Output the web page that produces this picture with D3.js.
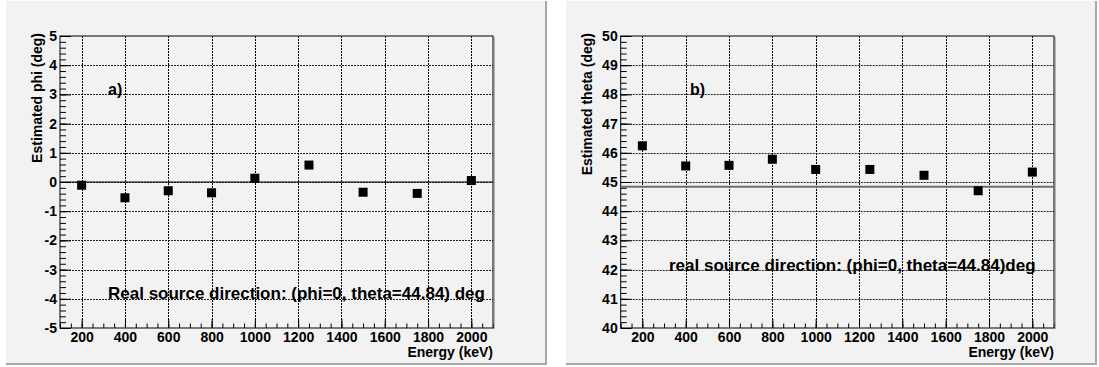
<!DOCTYPE html>
<html>
<head>
<meta charset="utf-8">
<script src="https://cdnjs.cloudflare.com/ajax/libs/d3/7.8.5/d3.min.js"></script>
<style>
  body { margin: 0; background: #fff; }
  svg { display: block; font-family: "Liberation Sans", Arial, sans-serif; font-weight: bold; }
</style>
</head>
<body>
<svg id="chart" width="1099" height="367"></svg>
<script>
// energies of the simulated sources (keV)
const energies = [200, 400, 600, 800, 1000, 1250, 1500, 1750, 2000];
// reconstructed directions
const phiValues = [-0.11, -0.54, -0.30, -0.37, 0.13, 0.58, -0.35, -0.39, 0.05];
const thetaValues = [46.24, 45.55, 45.57, 45.78, 45.43, 45.43, 45.23, 44.70, 45.34];
// tick labels
const xTicks = [200, 400, 600, 800, 1000, 1200, 1400, 1600, 1800, 2000];
const phiTicks = [-5, -4, -3, -2, -1, 0, 1, 2, 3, 4, 5];
const thetaTicks = [40, 41, 42, 43, 44, 45, 46, 47, 48, 49, 50];

const svg = d3.select('#chart');
const font = '"Liberation Sans", Arial, sans-serif';

const panels = [
    {pad: [6, 547], plot: [60, 493], yDomain: [-5, 5], yTicks: phiTicks, values: phiValues,
     ref: 0, refColor: '#000', refWidth: 1,
     yTitle: 'Estimated phi (deg)', titleX: 42,
     tag: 'a)', tagPos: [108, 95],
     note: 'Real source direction: (phi=0, theta=44.84) deg', notePos: [108, 299]},
    {pad: [566, 1097], plot: [620.7, 1054], yDomain: [40, 50], yTicks: thetaTicks, values: thetaValues,
     ref: 44.84, refColor: '#6e6e6e', refWidth: 2,
     yTitle: 'Estimated theta (deg)', titleX: 592,
     tag: 'b)', tagPos: [690, 95],
     note: 'real source direction: (phi=0, theta=44.84)deg', notePos: [669, 271]}
];

const plotTop = 36, plotBottom = 328;

const styleLabels = a => a.selectAll('text')
    .attr('font-size', 14).attr('font-weight', 'bold')
    .attr('fill', '#000').attr('font-family', font);

panels.forEach(p => {
    const g = svg.append('g');

    // pad with ROOT-like bevel
    g.append('rect').attr('x', p.pad[0]).attr('y', 1)
        .attr('width', p.pad[1] - p.pad[0]).attr('height', 363)
        .attr('fill', '#f2f2f2');
    g.append('path')
        .attr('d', `M${p.pad[1] - 1},1V${364}H${p.pad[0]}`)
        .attr('stroke', '#a8a8a8').attr('stroke-width', 2).attr('fill', 'none');

    const x = d3.scaleLinear().domain([100, 2100]).range(p.plot);
    const y = d3.scaleLinear().domain(p.yDomain).range([plotBottom, plotTop]);

    // dotted grid at the major ticks
    g.append('g').selectAll('line').data(xTicks).join('line')
        .attr('x1', d => Math.round(x(d)) + 0.5).attr('x2', d => Math.round(x(d)) + 0.5)
        .attr('y1', plotTop).attr('y2', plotBottom)
        .attr('stroke', '#000').attr('stroke-dasharray', '2,1');
    g.append('g').selectAll('line').data(p.yTicks.slice(1, -1)).join('line')
        .attr('x1', p.plot[0]).attr('x2', p.plot[1])
        .attr('y1', d => Math.round(y(d)) + 0.5).attr('y2', d => Math.round(y(d)) + 0.5)
        .attr('stroke', '#222').attr('stroke-dasharray', '2,1');

    // x axis: minor then major
    const xMinor = d3.range(100, 2101, 50);
    g.append('g').attr('transform', `translate(0,${plotBottom})`)
        .call(d3.axisBottom(x).tickValues(xMinor).tickSize(-4.5).tickFormat(''))
        .call(a => a.select('.domain').remove());
    g.append('g').attr('transform', `translate(0,${plotBottom})`)
        .call(d3.axisBottom(x).tickValues(xTicks).tickSize(-9).tickPadding(4).tickFormat(d => String(d)))
        .call(a => a.select('.domain').remove())
        .call(styleLabels);

    // y axis
    const yMinor = d3.range(p.yDomain[0], p.yDomain[1] + 0.001, 0.2);
    g.append('g').attr('transform', `translate(${p.plot[0]},0)`)
        .call(d3.axisLeft(y).tickValues(yMinor).tickSize(-6).tickFormat(''))
        .call(a => a.select('.domain').remove());
    g.append('g').attr('transform', `translate(${p.plot[0]},0)`)
        .call(d3.axisLeft(y).tickValues(p.yTicks).tickSize(-11).tickPadding(3).tickFormat(d => String(d)))
        .call(a => a.select('.domain').remove())
        .call(styleLabels);

    // frame
    g.append('rect').attr('x', p.plot[0]).attr('y', plotTop)
        .attr('width', p.plot[1] - p.plot[0]).attr('height', plotBottom - plotTop)
        .attr('fill', 'none').attr('stroke', '#000');
    g.append('line').attr('x1', p.plot[1] + 1).attr('x2', p.plot[1] + 1)
        .attr('y1', plotTop + 1).attr('y2', plotBottom + 1).attr('stroke', '#777');

    // reference line
    g.append('line').attr('x1', p.plot[0]).attr('x2', p.plot[1])
        .attr('y1', y(p.ref)).attr('y2', y(p.ref))
        .attr('stroke', p.refColor).attr('stroke-width', p.refWidth);

    // markers
    g.append('g').selectAll('rect').data(energies).join('rect')
        .attr('x', d => x(d) - 4.5).attr('y', (d, i) => y(p.values[i]) - 4.5)
        .attr('width', 9).attr('height', 9).attr('fill', '#000');

    // titles
    g.append('text').attr('transform', `translate(${p.titleX},33) rotate(-90)`)
        .attr('text-anchor', 'end').attr('font-size', 14).text(p.yTitle);
    g.append('text').attr('x', p.plot[1]).attr('y', 357)
        .attr('text-anchor', 'end').attr('font-size', 14).text('Energy (keV)');
    g.append('text').attr('x', p.tagPos[0]).attr('y', p.tagPos[1])
        .attr('font-size', 16).text(p.tag);
    g.append('text').attr('x', p.notePos[0]).attr('y', p.notePos[1])
        .attr('font-size', 17).text(p.note);
});
</script>
</body>
</html>
